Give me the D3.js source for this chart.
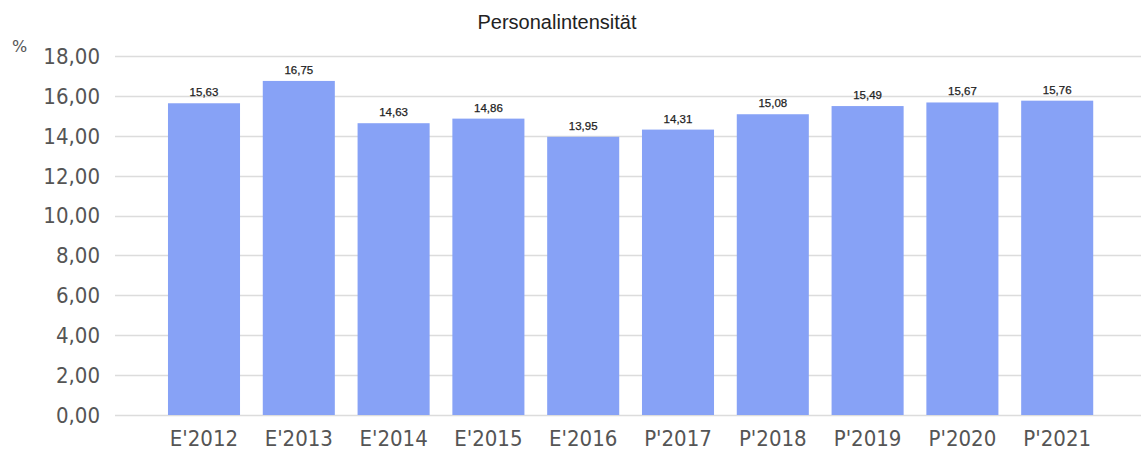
<!DOCTYPE html>
<html>
<head>
<meta charset="utf-8">
<script src="https://cdn.jsdelivr.net/npm/d3@7"></script>
<style>
  body { margin: 0; background: #fff; }
  svg { display: block; }
</style>
</head>
<body>
<div id="chart"></div>
<script>
const categories = ["E'2012", "E'2013", "E'2014", "E'2015", "E'2016", "P'2017", "P'2018", "P'2019", "P'2020", "P'2021"];
const values = [15.63, 16.75, 14.63, 14.86, 13.95, 14.31, 15.08, 15.49, 15.67, 15.76];
const yTicks = [0, 2, 4, 6, 8, 10, 12, 14, 16, 18];

const fullWidth = 1141;
const fullHeight = 451;

const fmt = v => d3.format(".2f")(v).replace(".", ",");

const svg = d3
  .select("#chart")
  .append("svg")
  .attr("width", fullWidth)
  .attr("height", fullHeight);

const x = d3
  .scaleBand()
  .domain(categories)
  .range([156.6, 1104.6])
  .paddingInner(0.24)
  .paddingOuter(0.12);

const y = d3.scaleLinear().domain([0, 18]).range([415, 56]);

// gridlines
svg
  .append("g")
  .selectAll("line")
  .data(yTicks)
  .enter()
  .append("line")
  .attr("x1", 115)
  .attr("x2", fullWidth)
  .attr("y1", d => Math.round(y(d)) + 0.5)
  .attr("y2", d => Math.round(y(d)) + 0.5)
  .style("stroke", "#dcdcdc")
  .style("stroke-width", 1.5);

// y tick labels
svg
  .append("g")
  .selectAll("text")
  .data(yTicks)
  .enter()
  .append("text")
  .attr("x", 100)
  .attr("y", d => y(d))
  .attr("dy", "0.36em")
  .attr("text-anchor", "end")
  .style("font-family", "'DejaVu Sans Condensed', 'DejaVu Sans', sans-serif")
  .style("font-stretch", "condensed")
  .style("font-size", "22px")
  .style("fill", "#555")
  .text(d => fmt(d));

// unit
svg
  .append("text")
  .attr("x", 12)
  .attr("y", 52)
  .style("font-family", "'DejaVu Sans', sans-serif")
  .style("font-size", "16px")
  .style("fill", "#555")
  .text("%");

// bars
svg
  .append("g")
  .selectAll("rect")
  .data(values)
  .enter()
  .append("rect")
  .attr("x", (d, i) => x(categories[i]))
  .attr("y", d => y(d))
  .attr("width", x.bandwidth())
  .attr("height", d => y(0) - y(d))
  .style("fill", "#87a2f6");

// value labels
svg
  .append("g")
  .selectAll("text")
  .data(values)
  .enter()
  .append("text")
  .attr("x", (d, i) => x(categories[i]) + x.bandwidth() / 2)
  .attr("y", d => y(d) - 7)
  .attr("text-anchor", "middle")
  .style("font-family", "'Liberation Sans', Arial, sans-serif")
  .style("font-size", "11.5px")
  .style("fill", "#222")
  .style("stroke", "#222")
  .style("stroke-width", 0.25)
  .text(d => fmt(d));

// x labels
svg
  .append("g")
  .selectAll("text")
  .data(categories)
  .enter()
  .append("text")
  .attr("x", d => x(d) + x.bandwidth() / 2)
  .attr("y", 446)
  .attr("text-anchor", "middle")
  .style("font-family", "'DejaVu Sans Condensed', 'DejaVu Sans', sans-serif")
  .style("font-stretch", "condensed")
  .style("font-size", "22px")
  .style("fill", "#555")
  .text(d => d);

// title
svg
  .append("text")
  .attr("x", 557)
  .attr("y", 29)
  .attr("text-anchor", "middle")
  .style("font-family", "'Liberation Sans', Arial, sans-serif")
  .style("font-size", "20px")
  .style("fill", "#222")
  .text("Personalintensität");
</script>
</body>
</html>
